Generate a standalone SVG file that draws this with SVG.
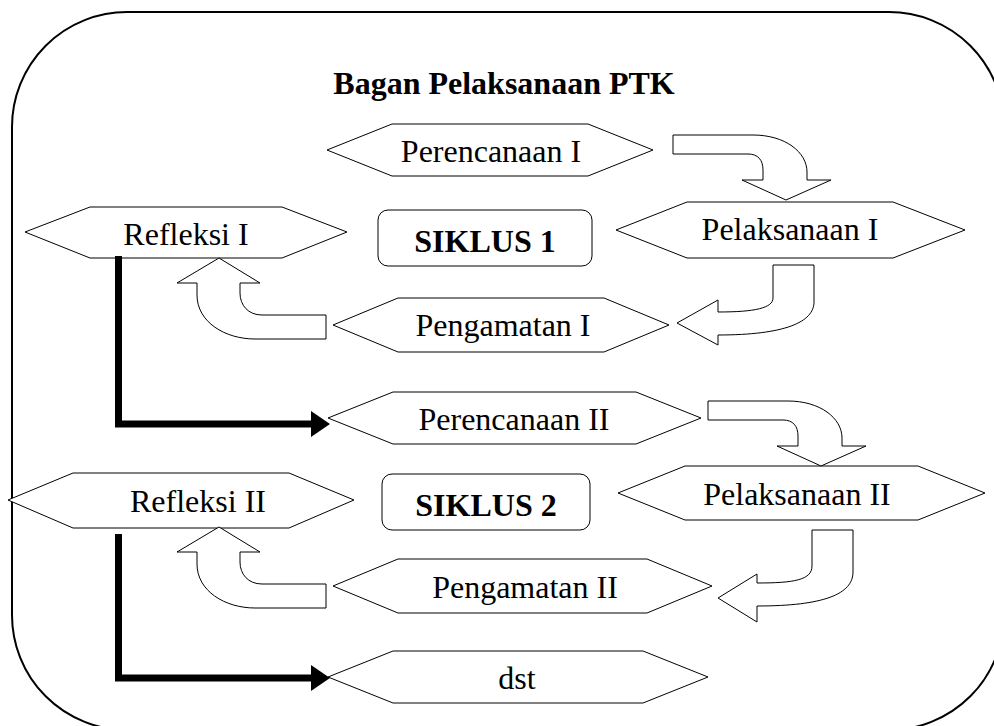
<svg xmlns="http://www.w3.org/2000/svg" width="994" height="726" viewBox="0 0 994 726">
<defs>
<style>
.frame{fill:none;stroke:#000;stroke-width:2}
.hex{fill:#fff;stroke:#000;stroke-width:1}
.box{fill:#fff;stroke:#000;stroke-width:1}
.blk{fill:#fff;stroke:#000;stroke-width:1;stroke-linejoin:miter}
.thick{fill:none;stroke:#000;stroke-width:7}
.t{font-family:"Liberation Serif","Times New Roman",serif;font-size:32px;fill:#000;text-anchor:middle}
.b{font-weight:bold}
</style>
</defs>
<rect width="994" height="726" fill="#fff"/>
<rect class="frame" x="12" y="12" width="992" height="718" rx="115" ry="115"/>
<text class="t b" x="504" y="94">Bagan Pelaksanaan PTK</text>

<g id="perencanaan1">
<polygon class="hex" points="327,150 392,124 588,124 653,150 588,176 392,176"/>
<text class="t" x="491" y="162">Perencanaan I</text>
</g>
<g id="refleksi1">
<polygon class="hex" points="25,232 90,207 282,207 347,232 282,258 90,258"/>
<text class="t" x="186" y="245">Refleksi I</text>
</g>
<g id="siklus1">
<rect class="box" x="378" y="210" width="214" height="56" rx="10"/>
<text class="t b" x="485" y="252">SIKLUS 1</text>
</g>
<g id="pelaksanaan1">
<polygon class="hex" points="616,230 687,202 893,202 965,230 893,258 687,258"/>
<text class="t" x="790" y="240">Pelaksanaan I</text>
</g>
<g id="pengamatan1">
<polygon class="hex" points="333,325 398,298 604,298 669,325 604,352 398,352"/>
<text class="t" x="503" y="336">Pengamatan I</text>
</g>
<g id="perencanaan2">
<polygon class="hex" points="328,418 393,392 636,392 701,418 636,444 393,444"/>
<text class="t" x="514" y="430">Perencanaan II</text>
</g>
<g id="refleksi2">
<polygon class="hex" points="8,500 73,473 289,473 354,500 289,528 73,528"/>
<text class="t" x="198" y="512">Refleksi II</text>
</g>
<g id="siklus2">
<rect class="box" x="382" y="474" width="208" height="56" rx="10"/>
<text class="t b" x="486" y="516">SIKLUS 2</text>
</g>
<g id="pelaksanaan2">
<polygon class="hex" points="618,493 685,466 918,466 985,493 918,520 685,520"/>
<text class="t" x="797" y="505">Pelaksanaan II</text>
</g>
<g id="pengamatan2">
<polygon class="hex" points="333,586 398,559 647,559 712,586 647,613 398,613"/>
<text class="t" x="525" y="598">Pengamatan II</text>
</g>
<g id="dst">
<polygon class="hex" points="328,677 393,651 643,651 708,677 643,703 393,703"/>
<text class="t" x="517" y="689">dst</text>
</g>

<g id="connectors">
<path id="a1" class="blk" d="M673,135 L753,135 C785,135 807,152 807,172 L807,180 L831,180 L786,200 L742,180 L763,180 L763,170 C763,160 758,154 748,154 L673,154 Z"/>
<path id="a2" class="blk" d="M773,265 L814,265 L814,302 C814,322 785,335 718,335 L718,345 L677,323 L718,300 L718,312 C755,312 773,308 773,298 Z"/>
<path id="a3" class="blk" d="M326,315 L262,315 C248,315 240,305 240,293 L240,283 L260,283 L219,258 L177,283 L197,283 L197,295 C197,322 225,339 255,339 L326,339 Z"/>
<path id="a4" class="blk" transform="translate(35,266)" d="M673,135 L753,135 C785,135 807,152 807,172 L807,180 L831,180 L786,200 L742,180 L763,180 L763,170 C763,160 758,154 748,154 L673,154 Z"/>
<path id="a5" class="blk" d="M812,530 L853,530 L853,572 C853,594 824,606 757,606 L757,622 L718,598 L757,574 L757,583 C794,583 812,580 812,566 Z"/>
<path id="a6" class="blk" transform="translate(0,269)" d="M326,315 L262,315 C248,315 240,305 240,293 L240,283 L260,283 L219,258 L177,283 L197,283 L197,295 C197,322 225,339 255,339 L326,339 Z"/>
<path class="thick" d="M118.5,256 V424 H312"/>
<polygon points="311,411 330,424 311,437" fill="#000"/>
<path class="thick" d="M118.5,534 V678 H312"/>
<polygon points="311,665 330,678 311,691" fill="#000"/>
</g>
</svg>
